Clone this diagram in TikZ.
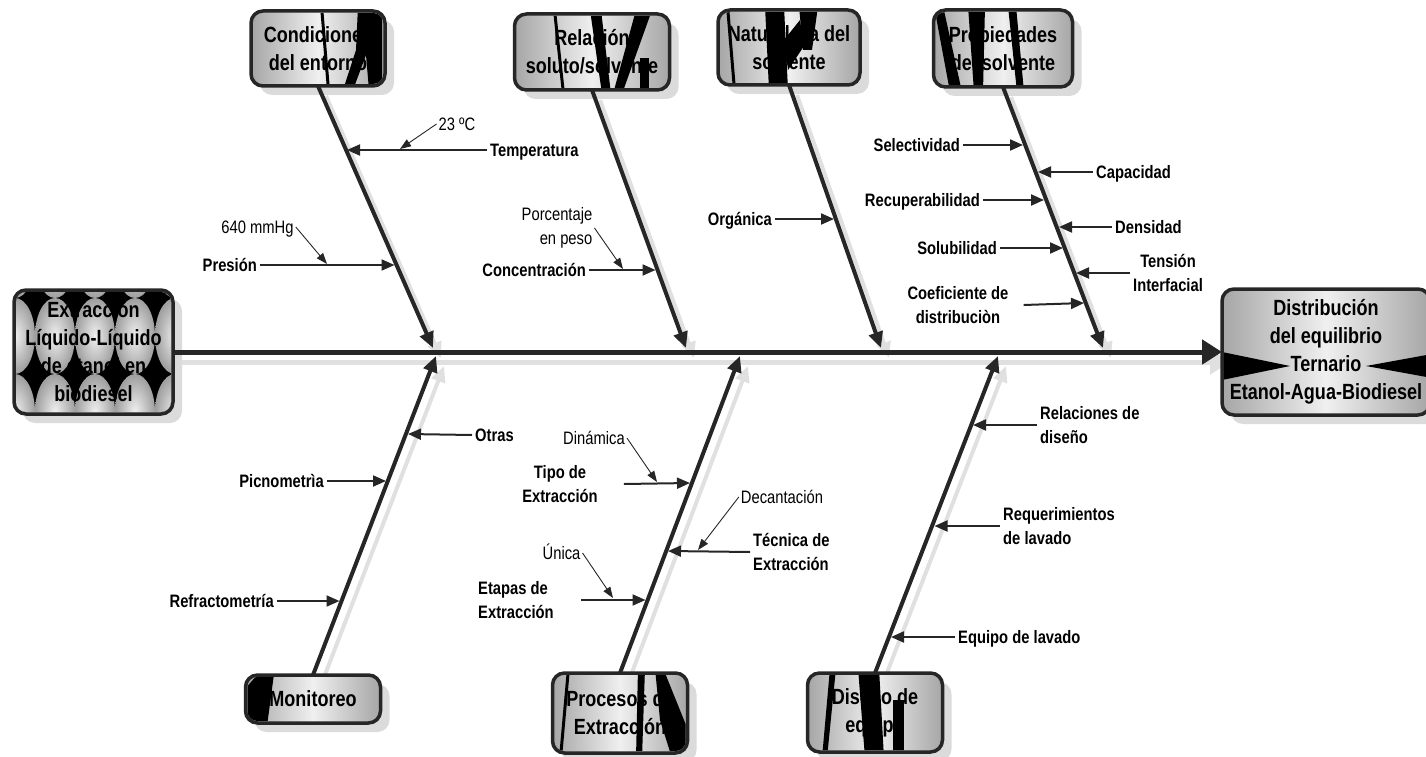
\documentclass[tikz,border=0pt]{standalone}
\usepackage{fontspec}
\setmainfont{Liberation Sans}[FakeStretch=0.82]
\usetikzlibrary{arrows.meta,positioning,shadows}
\pgfdeclarelayer{fondo}
\pgfsetlayers{fondo,main}
\colorlet{tinta}{black!85}

% espina y huesos (se dibujan dos veces: sombra y trazo)
\newcommand{\espinazo}{%
  \draw[espina] (origen.east) -- (efecto.west);
  \draw[hueso] (entorno.south) -- (p1);
  \draw[hueso] (relacion.south) -- (p2);
  \draw[hueso] (naturaleza.south) -- (p3);
  \draw[hueso] (propiedades.south) -- (p4);
  \draw[hueso] (monitoreo.north) -- (p5);
  \draw[hueso] (procesos.north) -- (p6);
  \draw[hueso] (diseno.north) -- (p7);
}
% recorte al interior de una caja
\newcommand{\interior}[1]{\clip[rounded corners=10pt] ([shift={(2,2)}]#1.north west) rectangle ([shift={(-2,-2)}]#1.south east);}

\begin{document}
\begin{tikzpicture}[x=1pt,y=-1pt]
		\tikzstyle{caja}=[draw=black!85, line width=3.5pt, rounded corners=12pt, outer sep=0pt, inner sep=0pt,
			left color=black!35, right color=black!35, middle color=black!6,
			drop shadow={shadow xshift=9pt, shadow yshift=-9pt, fill=black!14, opacity=1}]
		\tikzstyle{titulo}=[align=center, font=\fontsize{22}{28}\selectfont\bfseries, inner sep=0pt]
		\tikzstyle{espina}=[draw=tinta, line width=5pt, -{Triangle[length=20pt,width=24pt]}]
		\tikzstyle{hueso}=[draw=tinta, line width=4pt, -{Triangle[length=16pt,width=14pt]}]
		\tikzstyle{rama}=[draw=black!85, line width=2pt, -{Triangle[length=13pt,width=11pt]}]
		\tikzstyle{fina}=[draw=black!85, line width=0.9pt, -{Triangle[length=11pt,width=8pt]}]
		\tikzstyle{etiqueta}=[font=\fontsize{18}{24}\selectfont\bfseries, inner sep=3pt, text height=13pt, text depth=0pt]
		\tikzstyle{etiquetas}=[font=\fontsize{18}{24}\selectfont\bfseries, inner sep=3pt]
		\tikzstyle{nota}=[font=\fontsize{18}{24}\selectfont, inner sep=2pt, text height=13pt, text depth=0pt]
		\tikzstyle{notas}=[font=\fontsize{18}{24}\selectfont, inner sep=2pt]

		\useasboundingbox (0,0) rectangle (1426,757);
		\clip (0,0) rectangle (1426,757);

		%caja de origen con su relleno de manchas
		\node[caja, minimum width=159pt, minimum height=124pt] (origen) at (93.5,352) {};
		\begin{scope}
			\interior{origen}
			\fill[black] (14,290) rectangle (173,414);
			\foreach \cx in {15,55,95,135,175}
				\foreach \cy in {260,336,412}
					\shade[inner color=black!6, outer color=black!38] (\cx,\cy) ellipse [x radius=20, y radius=38];
		\end{scope}
		\node[titulo] (origentexto) at (origen) {Extracción\\Líquido-Líquido\\de etanol en\\biodiesel};

		%caja de efecto
		\node[caja, minimum width=208pt, minimum height=126pt] (efecto) at (1326,352) {};
		\begin{scope}
			\interior{efecto}
			\fill[black] (1222,352) -- (1290,366) -- (1222,380) -- cycle;
			\fill[black] (1432,354) -- (1366,366) -- (1432,378) -- cycle;
		\end{scope}
		\node[titulo] (efectotexto) at (efecto) {Distribución\\del equilibrio\\Ternario\\Etanol-Agua-Biodiesel};

		%cajas de causas
		\node[caja, minimum width=134pt, minimum height=75pt] (entorno) at (318,48.5) {};
		\begin{scope}
			\interior{entorno}
			\fill[black] (358,6) -- (382,6) -- (382,90) -- (369,90) -- (366,55) -- (353,90) -- (343,90) -- (356,50) -- cycle;
			\fill[black] (320,6) -- (323,6) -- (330,90) -- (327,90) -- cycle;
		\end{scope}
		\node[titulo] (entornotexto) at (entorno) {Condiciones\\del entorno};

		\node[caja, minimum width=155pt, minimum height=76pt] (relacion) at (592,52) {};
		\begin{scope}
			\interior{relacion}
			\fill[black] (590,10) -- (601,10) -- (611,94) -- (602,94) -- cycle;
			\fill[black] (636,10) -- (652,10) -- (622,94) -- (613,94) -- cycle;
			\fill[black] (640,58) -- (649,58) -- (649,94) -- (640,94) -- cycle;
			\fill[black] (553,10) -- (556,10) -- (565,94) -- (562,94) -- cycle;
		\end{scope}
		\node[titulo] (relaciontexto) at (relacion) {Relación\\soluto/solvente};

		\node[caja, minimum width=142pt, minimum height=75pt] (naturaleza) at (789,47.5) {};
		\begin{scope}
			\interior{naturaleza}
			\fill[black] (765,6) -- (784,6) -- (788,90) -- (769,90) -- cycle;
			\fill[black] (799,6) -- (818,6) -- (812,50) -- (803,50) -- cycle;
			\fill[black] (784,40) -- (800,20) -- (804,46) -- (788,70) -- cycle;
			\fill[black] (726,6) -- (729,6) -- (736,90) -- (733,90) -- cycle;
		\end{scope}
		\node[titulo] (naturalezatexto) at (naturaleza) {Naturaleza del\\solvente};

		\node[caja, minimum width=139pt, minimum height=77pt] (propiedades) at (1003,48.5) {};
		\begin{scope}
			\interior{propiedades}
			\fill[black] (934,6) -- (943,6) -- (962,92) -- (950,92) -- cycle;
			\fill[black] (968,6) -- (985,6) -- (983,92) -- (974,92) -- cycle;
			\fill[black] (1008,6) -- (1016,6) -- (1024,92) -- (1017,92) -- cycle;
		\end{scope}
		\node[titulo] (propiedadestexto) at (propiedades) {Propiedades\\del solvente};

		\node[caja, minimum width=135pt, minimum height=48pt] (monitoreo) at (313,699) {};
		\begin{scope}
			\interior{monitoreo}
			\fill[black] (244,690) -- (258,674) -- (274,674) -- (267,726) -- (250,726) -- cycle;
		\end{scope}
		\node[titulo] (monitoreotexto) at (monitoreo) {Monitoreo};

		\node[caja, minimum width=135pt, minimum height=80pt] (procesos) at (620,713) {};
		\begin{scope}
			\interior{procesos}
			\fill[black] (638,668) -- (645,668) -- (642,758) -- (636,758) -- cycle;
			\fill[black] (655,668) -- (663,668) -- (690,735) -- (690,758) -- (672,758) -- (660,720) -- cycle;
			\fill[black] (567,668) -- (570,668) -- (562,758) -- (559,758) -- cycle;
		\end{scope}
		\node[titulo] (procesostexto) at (procesos) {Procesos de\\Extracción};

		\node[caja, minimum width=135pt, minimum height=79pt] (diseno) at (875,712.5) {};
		\begin{scope}
			\interior{diseno}
			\fill[black] (830,668) -- (836,668) -- (827,758) -- (822,758) -- cycle;
			\fill[black] (858,668) -- (879,668) -- (884,758) -- (865,758) -- cycle;
			\fill[black] (893,700) -- (904,700) -- (904,758) -- (893,758) -- cycle;
		\end{scope}
		\node[titulo] (disenotexto) at (diseno) {Diseño de\\equipo};

		%puntas sobre la espina
		\coordinate (p1) at (433,348);
		\coordinate (p2) at (686,348);
		\coordinate (p3) at (881,348);
		\coordinate (p4) at (1103,348);
		\coordinate (p5) at (436,356);
		\coordinate (p6) at (740,356);
		\coordinate (p7) at (998,356);

		%sombras
		\begin{pgfonlayer}{fondo}
			\begin{scope}[transform canvas={shift={(8pt,-10pt)}}]
				\colorlet{tinta}{black!12}
				\espinazo
			\end{scope}
		\end{pgfonlayer}
		\espinazo

		%condiciones del entorno
		\node[etiqueta, anchor=west] (temperatura) at (487,150) {Temperatura};
		\coordinate (t1) at (347,150);
		\draw[rama] (temperatura) -- (t1);
		\node[nota] (grados) at (457,124) {23 ºC};
		\coordinate (n1) at (400,149);
		\draw[fina] (grados.west) -- (n1);
		\node[etiqueta, anchor=east] (presion) at (260,265) {Presión};
		\coordinate (t2) at (394.5,265);
		\draw[rama] (presion) -- (t2);
		\node[nota] (mmhg) at (257.5,227) {640 mmHg};
		\coordinate (n2) at (327,264);
		\draw[fina] (mmhg.east) -- (n2);

		%relacion soluto/solvente
		\node[etiqueta, anchor=east] (concentracion) at (589,270) {Concentración};
		\coordinate (t3) at (655.5,270);
		\draw[rama] (concentracion) -- (t3);
		\node[notas, align=right] (porcentaje) at (557,228) {Porcentaje\\en peso};
		\coordinate (n3) at (623,269);
		\draw[fina] (porcentaje.east) -- (n3);

		%naturaleza del solvente
		\node[etiqueta, anchor=east] (organica) at (775,219) {Orgánica};
		\coordinate (t4) at (834,219);
		\draw[rama] (organica) -- (t4);

		%propiedades del solvente
		\node[etiqueta, anchor=east] (selectividad) at (963,145) {Selectividad};
		\coordinate (t5) at (1023,145);
		\draw[rama] (selectividad) -- (t5);
		\node[etiqueta, anchor=west] (capacidad) at (1093,172) {Capacidad};
		\coordinate (t6) at (1038,172);
		\draw[rama] (capacidad) -- (t6);
		\node[etiqueta, anchor=east] (recuperabilidad) at (983,200) {Recuperabilidad};
		\coordinate (t7) at (1044,200);
		\draw[rama] (recuperabilidad) -- (t7);
		\node[etiqueta, anchor=west] (densidad) at (1112,227) {Densidad};
		\coordinate (t8) at (1059,227);
		\draw[rama] (densidad) -- (t8);
		\node[etiqueta, anchor=east] (solubilidad) at (1000,248) {Solubilidad};
		\coordinate (t9) at (1063,248);
		\draw[rama] (solubilidad) -- (t9);
		\node[etiquetas, align=center] (tension) at (1168,273) {Tensión\\Interfacial};
		\coordinate (t10) at (1076,273);
		\draw[rama] (tension.west) -- (t10);
		\node[etiquetas, align=center] (coeficiente) at (958,305) {Coeficiente de\\distribuciòn};
		\coordinate (t11) at (1084,303);
		\draw[rama] ([xshift=12pt]coeficiente.east) -- (t11);

		%monitoreo
		\node[etiqueta, anchor=west] (otras) at (472,435) {Otras};
		\coordinate (o1) at (408,434);
		\draw[rama] (otras.west) -- (o1);
		\node[etiqueta, anchor=east] (picnometria) at (327,481) {Picnometrìa};
		\coordinate (o2) at (386,481);
		\draw[rama] (picnometria) -- (o2);
		\node[etiqueta, anchor=east] (refractometria) at (277,601) {Refractometría};
		\coordinate (o3) at (339.5,601);
		\draw[rama] (refractometria) -- (o3);

		%procesos de extraccion
		\node[etiquetas, align=center] (tipo) at (560,484) {Tipo de\\Extracción};
		\coordinate (r1) at (690,483);
		\draw[rama] ([xshift=23pt]tipo.east) -- (r1);
		\node[nota] (dinamica) at (594,438) {Dinámica};
		\coordinate (n4) at (657,482);
		\draw[fina] (dinamica.east) -- (n4);
		\node[etiquetas, align=left, anchor=west] (tecnica) at (750,552) {Técnica de\\Extracción};
		\coordinate (r2) at (668,551);
		\draw[rama] (tecnica.west) -- (r2);
		\node[nota] (decantacion) at (782,497) {Decantación};
		\coordinate (n5) at (698,550);
		\draw[fina] (decantacion.west) -- (n5);
		\node[etiquetas, align=left, anchor=west] (etapas) at (475,600) {Etapas de\\Extracción};
		\coordinate (r3) at (645.5,600);
		\draw[rama] ([xshift=24pt]etapas.east) -- (r3);
		\node[nota] (unica) at (561.5,553) {Única};
		\coordinate (n6) at (613,598);
		\draw[fina] (unica.east) -- (n6);

		%diseño de equipo
		\node[etiquetas, align=left, anchor=west] (relaciones) at (1037,425) {Relaciones de\\diseño};
		\coordinate (d1) at (973,425);
		\draw[rama] (relaciones.west) -- (d1);
		\node[etiquetas, align=left, anchor=west] (requerimientos) at (1000,526) {Requerimientos\\de lavado};
		\coordinate (d2) at (934.5,526);
		\draw[rama] (requerimientos.west) -- (d2);
		\node[etiqueta, anchor=west] (equipo) at (955,637) {Equipo de lavado};
		\coordinate (d3) at (891,637);
		\draw[rama] (equipo) -- (d3);
	\end{tikzpicture}
\end{document}
